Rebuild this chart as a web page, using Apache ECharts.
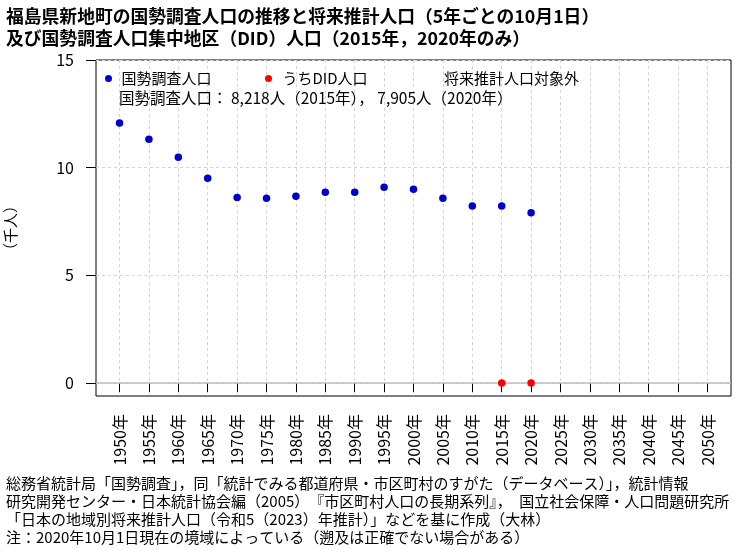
<!DOCTYPE html>
<html><head><meta charset="utf-8">
<script src="https://cdn.jsdelivr.net/npm/echarts@6/dist/echarts.min.js"></script>
<style>html,body{margin:0;padding:0;background:#fff}#c{width:750px;height:550px}</style>
</head><body><div id="c"></div>
<script>
// ---- data ----
const tickYears = [1950,1955,1960,1965,1970,1975,1980,1985,1990,1995,2000,2005,2010,2015,2020,2025,2030,2035,2040,2045,2050];
const popYears = [1950,1955,1960,1965,1970,1975,1980,1985,1990,1995,2000,2005,2010,2015,2020];
const popValues = [12.07,11.32,10.48,9.51,8.62,8.58,8.67,8.86,8.86,9.09,9.00,8.58,8.22,8.218,7.905];
const didYears = [2015,2020];
const didValues = [0,0];
const yTicks = [0,5,10,15];
const seriesNames = ['国勢調査人口','うちDID人口','将来推計人口対象外'];
const titleLines = ['福島県新地町の国勢調査人口の推移と将来推計人口（5年ごとの10月1日）','及び国勢調査人口集中地区（DID）人口（2015年，2020年のみ）'];
const infoLine = '国勢調査人口： 8,218人（2015年）， 7,905人（2020年）';
const noteLines = [
 '総務省統計局「国勢調査」，同「統計でみる都道府県・市区町村のすがた（データベース）」，統計情報',
 '研究開発センター・日本統計協会編（2005）　『市区町村人口の長期系列』，　国立社会保障・人口問題研究所',
 '「日本の地域別将来推計人口（令和5（2023）年推計）」などを基に作成（大林）',
 '注：2020年10月1日現在の境域によっている（遡及は正確でない場合がある）'
];
const yName = '（千人）';

const FONT = '"Noto Sans CJK JP", "Noto Sans", sans-serif';
const chart = echarts.init(document.getElementById('c'), null, {renderer:'canvas'});
const popData = popYears.map((y,i)=>[y,popValues[i]]);
const didData = didYears.map((y,i)=>[y,didValues[i]]);
const legendBase = {orient:'horizontal', icon:'circle', itemHeight:7, selectedMode:false,
  textStyle:{fontFamily:FONT, fontSize:15, color:'#000'}};
chart.setOption({
  animation:false,
  backgroundColor:'#fff',
  title:[
    {text:titleLines.join('\n'), left:1, top:0, textStyle:{fontFamily:FONT, fontSize:17.8, fontWeight:'bold', color:'#000', lineHeight:22}},
    {text:infoLine, left:114, top:85, textStyle:{fontFamily:FONT, fontSize:15.5, fontWeight:'normal', color:'#000'}},
    {text:noteLines.join('\n'), left:1, top:469, textStyle:{fontFamily:FONT, fontSize:15, fontWeight:'normal', color:'#000', lineHeight:18}}
  ],
  legend:[
    Object.assign({}, legendBase, {data:[seriesNames[0]], left:100, top:66, itemWidth:16}),
    Object.assign({}, legendBase, {data:[seriesNames[1]], left:260, top:66, itemWidth:18}),
    Object.assign({}, legendBase, {data:[seriesNames[2]], left:427, top:66, itemWidth:7})
  ],
  grid:{left:96, right:19, top:60, bottom:154, show:true, borderColor:'#000', borderWidth:1, backgroundColor:'transparent', containLabel:false, outerBoundsMode:'none'},
  xAxis:{type:'value', min:1946, max:2054,
    axisLine:{show:false},
    axisTick:{show:true, inside:false, length:9, customValues:tickYears, lineStyle:{color:'#000'}},
    axisLabel:{customValues:tickYears, rotate:90, margin:18, formatter:v=>v+'年', fontFamily:FONT, fontSize:16, color:'#000'},
    splitLine:{show:true, lineStyle:{color:'#d3d3d3', type:[3,3], width:1}}
  },
  yAxis:{type:'value', min:-0.6, max:15,
    name:yName, nameLocation:'middle', nameRotate:90, nameGap:78,
    nameTextStyle:{fontFamily:FONT, fontSize:15, color:'#000'},
    axisLine:{show:false},
    axisTick:{show:true, inside:false, length:10, customValues:yTicks, lineStyle:{color:'#000'}},
    axisLabel:{customValues:yTicks, margin:22, fontFamily:FONT, fontSize:16, color:'#000'},
    splitLine:{show:true, lineStyle:{color:'#d3d3d3', type:[3,3], width:1}}
  },
  series:[
    {name:seriesNames[0], type:'scatter', data:popData, symbol:'circle', symbolSize:7.5, itemStyle:{color:'#0000cd', opacity:1}, z:5,
      markLine:{silent:true, symbol:'none', label:{show:false}, lineStyle:{color:'#bebebe', type:'solid', width:1.5}, data:[{yAxis:0}]}},
    {name:seriesNames[1], type:'scatter', data:didData, symbol:'circle', symbolSize:7.5, itemStyle:{color:'#ff0000', opacity:1}, z:6},
    {name:seriesNames[2], type:'scatter', data:[], itemStyle:{color:'rgba(0,0,0,0)'}}
  ]
});
</script></body></html>
